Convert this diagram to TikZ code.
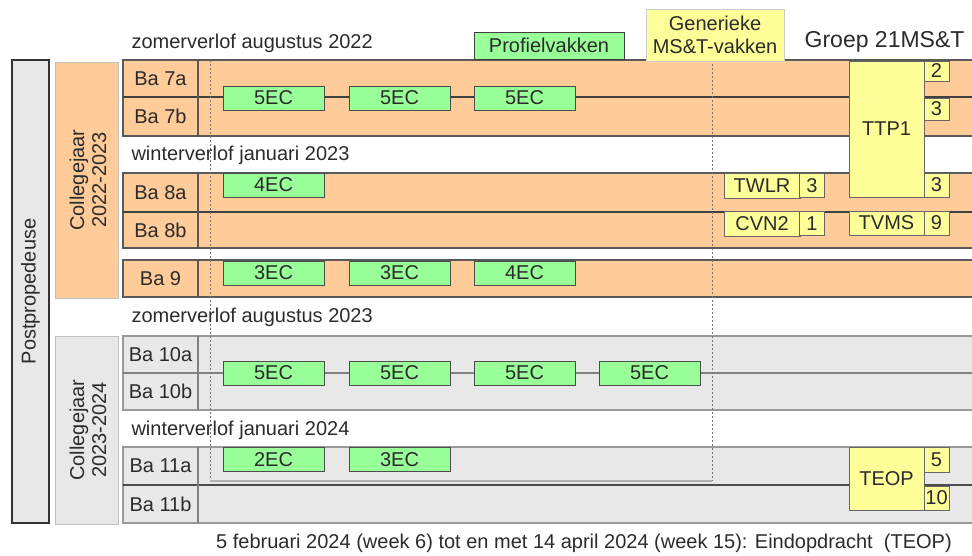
\documentclass[tikz,border=0pt]{standalone}
\usepackage{fontspec}
\setmainfont{Liberation Sans}
\definecolor{oranje}{HTML}{FFCC99}
\definecolor{grijs}{HTML}{E8E8E8}
\definecolor{groen}{HTML}{99FF99}
\definecolor{geel}{HTML}{FFFF99}
\definecolor{tekst}{HTML}{2B2B2B}

\begin{document}
\begin{tikzpicture}[x=1pt,y=-1pt,font=\fontsize{20}{22}\selectfont,text=tekst,
    ec node/.style={draw=black!70,fill=groen,minimum width=101pt,minimum height=24pt,inner sep=0pt},
    vak node/.style={draw=black!60,fill=geel,inner sep=0pt},
    nr node/.style={vak node,minimum width=25pt,minimum height=24pt},
    label node/.style={inner sep=0pt},
    oranje blok/.style={fill=oranje,draw=black!65,line width=1.2pt},
    grijs blok/.style={fill=grijs,draw=black!40,line width=1.6pt}]
    \useasboundingbox (0,0) rectangle (972,556);
    \clip (0,0) rectangle (972,556);

    % jaren
    \draw[fill=grijs,draw=black!80,line width=1.5pt] (12,60) rectangle (49,523);
    \node[rotate=90] at (30.5,291.5) (postprop) {Postpropedeuse};
    \draw[fill=oranje,draw=black!25] (55,62) rectangle (118,298);
    \node[rotate=90,align=center] at (88,180) (cj1) {Collegejaar\\2022-2023};
    \draw[fill=grijs,draw=black!25] (55,336) rectangle (118,524);
    \node[rotate=90,align=center] at (88,430) (cj2) {Collegejaar\\2023-2024};

    % blokken
    \draw[oranje blok] (123,60) rectangle (990,136);
    \draw[oranje blok] (123,173) rectangle (990,248);
    \draw[oranje blok] (123,260) rectangle (990,297);
    \draw[grijs blok] (123,336) rectangle (990,410);
    \draw[grijs blok] (123,447) rectangle (990,523);
    \draw[black!75,line width=1.2pt] (123,97) -- (990,97);
    \draw[black!75,line width=1.2pt] (123,212) -- (990,212);
    \draw[black!50,line width=1.6pt] (123,373) -- (990,373);
    \draw[black!70,line width=1.2pt] (123,485) -- (990,485);
    \draw[black!65,line width=1.2pt] (198,60) -- (198,136) (198,173) -- (198,248) (198,260) -- (198,297);
    \draw[black!50,line width=1.2pt] (198,336) -- (198,410) (198,447) -- (198,523);

    % generieke periode
    \draw[black!55,dash pattern=on 2pt off 2pt] (210,60) -- (210,481) (712,60) -- (712,481);
    \draw[black!30,line width=1.6pt] (210,481) -- (712,481);

    \node[anchor=west] at (128,43) (zomer1) {zomerverlof augustus 2022};
    \node[anchor=west] at (128,155) (winter1) {winterverlof januari 2023};
    \node[anchor=west] at (128,317) (zomer2) {zomerverlof augustus 2023};
    \node[anchor=west] at (128,430) (winter2) {winterverlof januari 2024};

    \node[draw=black!75,fill=groen,minimum width=150pt,minimum height=27pt,inner sep=0pt] at (549,45.5) (profiel) {Profielvakken};
    \node[draw=black!20,fill=geel,minimum width=138pt,minimum height=52pt,inner sep=0pt,align=center,font=\fontsize{20}{23}\selectfont] at (715,35) (generiek) {Generieke\\MS\&T-vakken};
    \node[anchor=east,font=\fontsize{23}{26}\selectfont] at (968,42) (groep) {Groep 21MS\&T};

    % rijen
    \node[label node] at (160.5,78.5) (ba7a) {Ba 7a};
    \node[label node] at (160.5,116.5) (ba7b) {Ba 7b};
    \node[label node] at (160.5,192.5) (ba8a) {Ba 8a};
    \node[label node] at (160.5,230) (ba8b) {Ba 8b};
    \node[label node] at (160.5,278.5) (ba9) {Ba 9};
    \node[label node] at (160.5,354.5) (ba10a) {Ba 10a};
    \node[label node] at (160.5,391.5) (ba10b) {Ba 10b};
    \node[label node] at (160.5,466) (ba11a) {Ba 11a};
    \node[label node] at (160.5,504) (ba11b) {Ba 11b};

    % profielvakken
    \node[ec node] at (273.5,98) (p7a) {5EC};
    \node[ec node] at (399.5,98) (p7b) {5EC};
    \node[ec node] at (524.5,98) (p7c) {5EC};
    \node[ec node] at (273.5,185) (p8a) {4EC};
    \node[ec node] at (273.5,273) (p9a) {3EC};
    \node[ec node] at (399.5,273) (p9b) {3EC};
    \node[ec node] at (524.5,273) (p9c) {4EC};
    \node[ec node] at (273.5,373) (p10a) {5EC};
    \node[ec node] at (399.5,373) (p10b) {5EC};
    \node[ec node] at (524.5,373) (p10c) {5EC};
    \node[ec node] at (649.5,373) (p10d) {5EC};
    \node[ec node] at (273.5,459.5) (p11a) {2EC};
    \node[ec node] at (399.5,459.5) (p11b) {3EC};

    % generieke vakken
    \node[vak node,minimum width=76pt,minimum height=25pt] at (762,185.5) (twlr) {TWLR};
    \node[nr node] at (812,185.5) (twlrn) {3};
    \node[vak node,minimum width=76pt,minimum height=25pt] at (762,223.5) (cvn) {CVN2};
    \node[nr node] at (812,223.5) (cvnn) {1};
    \node[vak node,minimum width=75pt,minimum height=136pt] at (886.5,129) (ttp) {TTP1};
    \node[nr node,minimum height=20pt] at (936.5,71) (ttpa) {2};
    \node[nr node,minimum height=22pt] at (936.5,109) (ttpb) {3};
    \node[nr node] at (936.5,185) (ttpc) {3};
    \node[vak node,minimum width=75pt,minimum height=24pt] at (886.5,223) (tvms) {TVMS};
    \node[nr node] at (936.5,223) (tvmsn) {9};
    \node[vak node,minimum width=75pt,minimum height=63pt] at (886.5,478.5) (teop) {TEOP};
    \node[nr node,minimum height=25pt] at (936.5,459.5) (teopa) {5};
    \node[nr node] at (936.5,498) (teopb) {10};

    \node at (584,543) (eind) {5 februari 2024 (week 6) tot en met 14 april 2024 (week 15): Eindopdracht\ \ (TEOP)};
\end{tikzpicture}
\end{document}
